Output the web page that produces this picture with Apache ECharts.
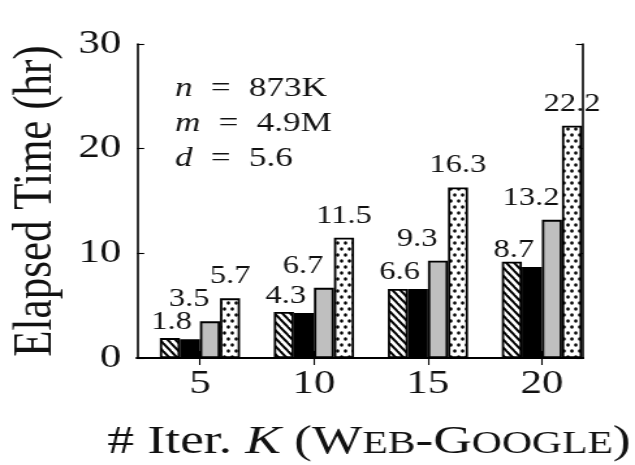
<!DOCTYPE html>
<html>
<head>
<meta charset="utf-8">
<script src="https://cdn.jsdelivr.net/npm/echarts@6/dist/echarts.min.js"></script>
<style>
  html, body { margin: 0; padding: 0; background: #fff; overflow: hidden; }
  /* The chart is laid out narrower and widened as a whole so the serif glyphs get a broad, LaTeX-like set */
  #chart { width: 488px; height: 465px; transform: scaleX(1.3012); transform-origin: 0 0; }
</style>
</head>
<body>
<div id="chart"></div>
<script>
// Number of iterations K on the x axis
const iterations = [5, 10, 15, 20];
// Elapsed time in hours for each of the four methods
const hatchedTimes = [1.9, 4.4, 6.6, 9.2];
const blackTimes = [1.8, 4.3, 6.6, 8.7];
const grayTimes = [3.5, 6.7, 9.3, 13.2];
const dottedTimes = [5.7, 11.5, 16.3, 22.2];
// Dataset statistics printed inside the plot
const statSymbols = ['n', 'm', 'd'];
const statValues = ['873K', '4.9M', '5.6'];

const SERIF = 'Liberation Serif';
const INK = '#111';

// Diagonal "\" hatch tile
function hatchTile() {
  const w = 6, h = 8;
  const c = document.createElement('canvas');
  c.width = w; c.height = h;
  const g = c.getContext('2d');
  g.fillStyle = '#fff';
  g.fillRect(0, 0, w, h);
  g.strokeStyle = '#000';
  g.lineWidth = 2.0;
  for (let k = -w; k <= w; k += w) {
    g.beginPath();
    g.moveTo(k - w * 0.25, -h * 0.25);
    g.lineTo(k + w * 1.25, h * 1.25);
    g.stroke();
  }
  return c;
}

// Staggered dot tile
function dotTile() {
  const w = 6, h = 12;
  const c = document.createElement('canvas');
  c.width = w; c.height = h;
  const g = c.getContext('2d');
  g.fillStyle = '#fff';
  g.fillRect(0, 0, w, h);
  g.fillStyle = '#000';
  [[1.5, 3], [4.5, 9]].forEach(([x, y]) => {
    g.beginPath();
    g.ellipse(x, y, 1.3, 1.7, 0, 0, Math.PI * 2);
    g.fill();
  });
  return c;
}

const pairs = vals => iterations.map((k, i) => [k, vals[i]]);

const labelStyle = (dx, dist) => ({
  show: true,
  position: 'top',
  distance: dist,
  offset: [dx, 0],
  fontFamily: SERIF,
  fontSize: 25,
  color: INK,
  formatter: p => p.value[1].toFixed(1)
});

const barBase = {
  type: 'bar',
  barWidth: 15.4,
  barGap: '0%',
  itemStyle: { borderColor: '#000', borderWidth: 1.8 },
  emphasis: { disabled: true }
};

const chart = echarts.init(document.getElementById('chart'), null, { renderer: 'canvas' });

const xMin = 2.24, xMax = 21.8;
const tickStyle = { color: '#000', width: 1.1 };

chart.setOption({
  animation: false,
  grid: { left: 105.3, right: 40, top: 44, bottom: 107, containLabel: false, outerBoundsMode: 'none' },
  xAxis: [
    {
      type: 'value', min: xMin, max: xMax, position: 'bottom',
      axisLine: { show: true, lineStyle: { color: '#000', width: 2 } },
      axisTick: { show: true, inside: true, length: 7, customValues: iterations, lineStyle: tickStyle },
      axisLabel: { customValues: iterations, fontFamily: SERIF, fontSize: 33, color: INK, margin: 10 },
      splitLine: { show: false },
      name: '# Iter. {i|K} ({b|W}{s|EB}-{b|G}{s|OOGLE})',
      nameLocation: 'middle',
      nameGap: 64,
      nameTextStyle: {
        fontFamily: SERIF, fontSize: 41, color: INK,
        padding: [0, 0, 0, 14],
        rich: {
          i: { fontFamily: SERIF, fontStyle: 'italic', fontSize: 41, color: INK, verticalAlign: 'bottom' },
          b: { fontFamily: SERIF, fontSize: 41, color: INK, verticalAlign: 'bottom' },
          s: { fontFamily: SERIF, fontSize: 32, color: INK, verticalAlign: 'bottom', padding: [0, 0, 2, 0] }
        }
      }
    },
    {
      type: 'value', min: xMin, max: xMax, position: 'top',
      axisLine: { show: true, lineStyle: { color: '#000', width: 2 } },
      axisTick: { show: true, inside: true, length: 7, customValues: iterations, lineStyle: tickStyle },
      axisLabel: { show: false },
      splitLine: { show: false }
    }
  ],
  yAxis: [
    {
      type: 'value', min: 0, max: 30, interval: 10, position: 'left',
      axisLine: { show: true, lineStyle: { color: '#000', width: 1.6 } },
      axisTick: { show: true, inside: true, length: 5.5, lineStyle: tickStyle },
      axisLabel: { fontFamily: SERIF, fontSize: 33, color: INK, margin: 12 },
      splitLine: { show: false },
      name: 'Elapsed Time (hr)',
      nameLocation: 'middle',
      nameGap: 50,
      nameTextStyle: { fontFamily: SERIF, fontSize: 43, color: INK }
    },
    {
      type: 'value', min: 0, max: 30, interval: 10, position: 'right',
      axisLine: { show: true, lineStyle: { color: '#000', width: 1.6 } },
      axisTick: { show: true, inside: true, length: 5.5, lineStyle: tickStyle },
      axisLabel: { show: false },
      splitLine: { show: false }
    }
  ],
  graphic: statSymbols.map((s, i) => ({
    type: 'text',
    left: 134.5,
    top: 75 + i * 35,
    z: 10,
    style: {
      text: '{i|' + s + '}{e|=}' + statValues[i],
      fontFamily: SERIF, fontSize: 27, fill: INK,
      rich: {
        i: { fontFamily: SERIF, fontStyle: 'italic', fontSize: 27, fill: INK },
        e: { fontFamily: SERIF, fontSize: 27, fill: INK, padding: [0, 14, 0, 14] }
      }
    }
  })),
  series: [
    Object.assign({}, barBase, {
      name: 'hatched',
      data: pairs(hatchedTimes),
      itemStyle: Object.assign({}, barBase.itemStyle, { color: { image: hatchTile(), repeat: 'repeat' } })
    }),
    Object.assign({}, barBase, {
      name: 'black',
      data: pairs(blackTimes),
      itemStyle: Object.assign({}, barBase.itemStyle, { color: '#000' }),
      label: labelStyle(-14, 4)
    }),
    Object.assign({}, barBase, {
      name: 'gray',
      data: pairs(grayTimes),
      itemStyle: Object.assign({}, barBase.itemStyle, { color: '#bfbfbf' }),
      label: labelStyle(-16, 9)
    }),
    Object.assign({}, barBase, {
      name: 'dotted',
      data: pairs(dottedTimes),
      itemStyle: Object.assign({}, barBase.itemStyle, { color: { image: dotTile(), repeat: 'repeat' } }),
      label: labelStyle(0, 9)
    })
  ]
});
</script>
</body>
</html>
